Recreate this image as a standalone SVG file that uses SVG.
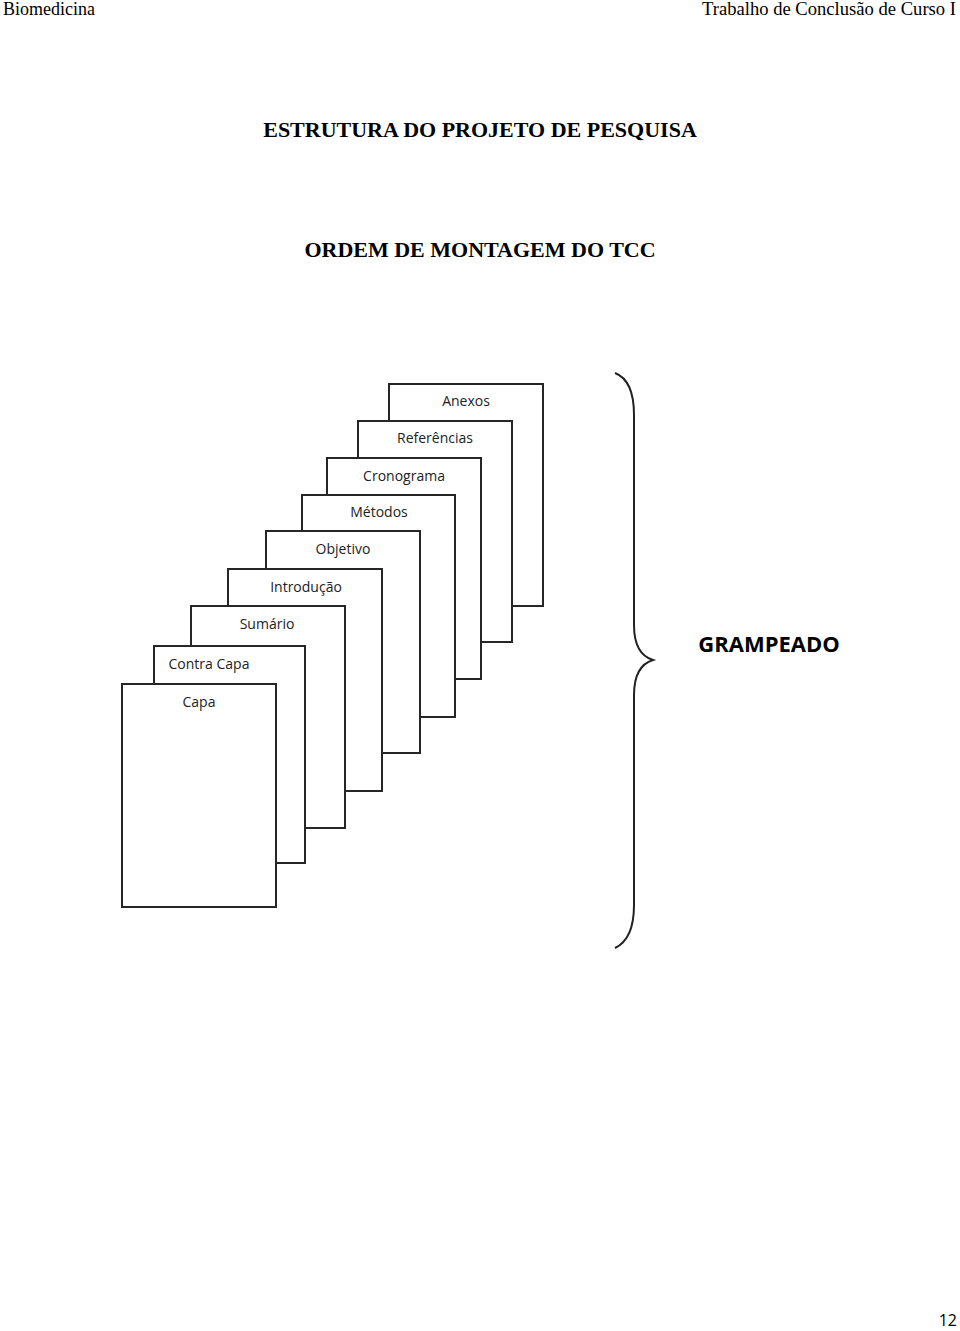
<svg xmlns="http://www.w3.org/2000/svg" width="960" height="1331" viewBox="0 0 960 1331">
<style>
.hdr{font-family:"Liberation Serif",serif;font-size:18px;fill:#000}
.ttl{font-family:"Liberation Serif",serif;font-size:22px;font-weight:bold;fill:#000;text-anchor:middle}
.pg{fill:#fff;stroke:#262626;stroke-width:2}
.lbl{font-family:"Open Sans","Liberation Sans",sans-serif;font-size:14px;fill:#222;text-anchor:middle}
.brace{fill:none;stroke:#222;stroke-width:2}
.big{font-family:"Open Sans","Liberation Sans",sans-serif;font-size:22px;font-weight:bold;fill:#000;text-anchor:middle}
</style>
<rect width="960" height="1331" fill="#fff"/>
<text class="hdr" x="3" y="15">Biomedicina</text>
<text class="hdr" x="956" y="15" text-anchor="end" textLength="254" lengthAdjust="spacingAndGlyphs">Trabalho de Conclusão de Curso I</text>
<text class="ttl" x="480" y="137">ESTRUTURA DO PROJETO DE PESQUISA</text>
<text class="ttl" x="480" y="257">ORDEM DE MONTAGEM DO TCC</text>
<g id="anexos"><rect class="pg" x="389" y="384" width="154" height="222"/><text class="lbl" x="466" y="406">Anexos</text></g>
<g id="referencias"><rect class="pg" x="358" y="421" width="154" height="221"/><text class="lbl" x="435" y="443">Referências</text></g>
<g id="cronograma"><rect class="pg" x="327" y="458" width="154" height="221"/><text class="lbl" x="404" y="481">Cronograma</text></g>
<g id="metodos"><rect class="pg" x="302" y="495" width="153" height="222"/><text class="lbl" x="379" y="517">Métodos</text></g>
<g id="objetivo"><rect class="pg" x="266" y="531" width="154" height="222"/><text class="lbl" x="343" y="554">Objetivo</text></g>
<g id="introducao"><rect class="pg" x="228" y="569" width="154" height="222"/><text class="lbl" x="306" y="592">Introdução</text></g>
<g id="sumario"><rect class="pg" x="191" y="606" width="154" height="222"/><text class="lbl" x="267" y="629">Sumário</text></g>
<g id="contracapa"><rect class="pg" x="154" y="646" width="151" height="217"/><text class="lbl" x="209" y="669">Contra Capa</text></g>
<g id="capa"><rect class="pg" x="122" y="684" width="154" height="223"/><text class="lbl" x="199" y="707">Capa</text></g>
<g id="connectors">
<path class="brace" d="M615,373 C628,378 634,392 634,415 L634,625 C634,645 640,656 653,660 C640,664 634,675 634,695 L634,905 C634,928 628,942 615,948"/>
</g>
<g id="grampeado"><text class="big" x="769" y="652">GRAMPEADO</text></g>
<text x="957" y="1326" text-anchor="end" font-family="Open Sans, Liberation Sans, sans-serif" font-size="16" fill="#000">12</text>
</svg>
